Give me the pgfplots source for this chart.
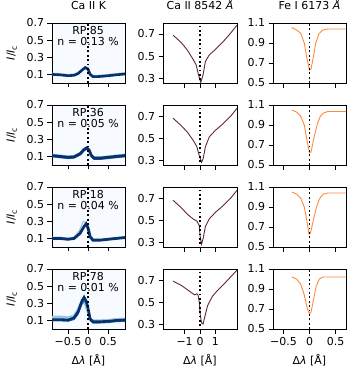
\documentclass[border=0pt]{standalone}
\usepackage{fontspec}
\setmainfont{DejaVu Sans}
\usepackage{pgfplots}
\pgfplotsset{compat=1.18}
\definecolor{kbg}{HTML}{F7FBFF}
\definecolor{kdark}{HTML}{08306B}
\definecolor{kmid}{HTML}{2171B5}
\definecolor{klight}{HTML}{9CC4E4}
\definecolor{caline}{HTML}{5E2838}
\definecolor{feline}{HTML}{FF8A3D}
\newcommand{\fs}{\fontsize{11}{13}\selectfont}
\newcommand{\ylab}{{\itshape I}/{\itshape I}\raisebox{-0.35ex}{\fontsize{7.7}{8}\selectfont c}}
\newcommand{\xlab}{Δ{\itshape λ} [Å]}
\pgfplotsset{
  base/.style={scale only axis, anchor=north west, height=60bp,
    tick pos=left, tick align=outside, major tick length=4.5bp,
    tick style={line width=0.9bp, black},
    axis line style={line width=0.9bp, black},
    ticklabel style={font=\fs},
    label style={font=\fs},
    title style={font=\fs, at={(axis description cs:0.5,1)}, anchor=base, yshift=8bp},
    every axis y label/.style={at={(axis description cs:-0.55,0.5)}, rotate=90, anchor=center, font=\fs},
    every axis x label/.style={at={(axis description cs:0.5,0)}, yshift=-31bp, anchor=center, font=\fs},
    clip=true},
  colK/.style={width=73bp, xmin=-0.9, xmax=0.92, ymin=0, ymax=0.7,
    xtick={-0.5,0,0.5}, ytick={0.1,0.3,0.5,0.7},
    yticklabels={0.1,0.3,0.5,0.7},
    axis background/.style={fill=kbg}},
  colCa/.style={width=74bp, xmin=-2.4, xmax=2.4, ymin=0.255, ymax=0.8,
    xtick={-1,0,1}, ytick={0.3,0.5,0.7}, yticklabels={0.3,0.5,0.7}},
  colFe/.style={width=73bp, xmin=-0.7, xmax=0.7, ymin=0.5, ymax=1.1,
    xtick={-0.5,0,0.5}, ytick={0.5,0.7,0.9,1.1}, yticklabels={0.5,0.7,0.9,1.1}},
  zline/.style={black, line width=1.8bp, dash pattern=on 1.8bp off 2.6bp},
}
\begin{document}
\begin{tikzpicture}
\useasboundingbox (0,0) rectangle (350bp,-370bp);
% ---------------- Row 1 ----------------
\begin{axis}[base, colK, at={(52bp,-23bp)}, xticklabels={}, title={Ca II K}, ylabel={\ylab}]
\addplot[klight, line width=1bp] coordinates {(-0.9,0.115) (-0.7,0.11) (-0.5,0.1) (-0.35,0.105) (-0.25,0.125) (-0.15,0.165) (-0.07,0.195) (0,0.175) (0.05,0.115) (0.12,0.09) (0.25,0.09) (0.4,0.095) (0.6,0.105) (0.8,0.115) (0.92,0.12)};
\addplot[kdark, line width=2.6bp] coordinates {(-0.9,0.10) (-0.7,0.095) (-0.5,0.085) (-0.35,0.09) (-0.25,0.11) (-0.15,0.15) (-0.07,0.18) (0,0.16) (0.05,0.10) (0.12,0.075) (0.25,0.075) (0.4,0.08) (0.6,0.09) (0.8,0.10) (0.92,0.105)};
\addplot[zline] coordinates {(0,0) (0,0.7)};
\node[font=\fs] at (axis cs:0,0.61) {RP 85};
\node[font=\fs] at (axis cs:0,0.48) {n = 0.13 \%};
\end{axis}
\begin{axis}[base, colCa, at={(163bp,-23bp)}, xticklabels={}, title={Ca II 8542 {\itshape Å}}]
\addplot[caline, line width=0.9bp] coordinates {(-1.75,0.69) (-1.2,0.62) (-0.8,0.55) (-0.45,0.47) (-0.25,0.42) (-0.1,0.33) (0.05,0.26) (0.2,0.33) (0.35,0.45) (0.6,0.51) (1.0,0.56) (1.5,0.63) (2.0,0.71) (2.4,0.78)};
\addplot[zline] coordinates {(0,0.2) (0,0.8)};
\end{axis}
\begin{axis}[base, colFe, at={(273bp,-23bp)}, xticklabels={}, title={Fe I 6173 {\itshape Å}}]
\addplot[feline, line width=0.9bp] coordinates {(-0.34,1.055) (-0.25,1.03) (-0.17,1.0) (-0.1,0.9) (-0.05,0.75) (0,0.63) (0.03,0.64) (0.07,0.75) (0.12,0.9) (0.18,0.99) (0.25,1.03) (0.35,1.04) (0.7,1.04)};
\addplot[zline] coordinates {(0,0.5) (0,1.1)};
\end{axis}
% ---------------- Row 2 ----------------
\begin{axis}[base, colK, at={(52bp,-105bp)}, xticklabels={}, ylabel={\ylab}]
\addplot[klight, line width=1.2bp] coordinates {(-0.9,0.125) (-0.7,0.115) (-0.5,0.105) (-0.35,0.11) (-0.2,0.145) (-0.1,0.195) (-0.03,0.215) (0.03,0.185) (0.08,0.125) (0.15,0.095) (0.3,0.095) (0.5,0.105) (0.7,0.115) (0.92,0.125)};
\addplot[kmid, line width=1bp] coordinates {(-0.9,0.095) (-0.7,0.085) (-0.5,0.075) (-0.35,0.08) (-0.2,0.115) (-0.1,0.165) (-0.03,0.185) (0.03,0.155) (0.08,0.095) (0.15,0.065) (0.3,0.065) (0.5,0.075) (0.7,0.085) (0.92,0.095)};
\addplot[kdark, line width=2.8bp] coordinates {(-0.9,0.11) (-0.7,0.10) (-0.5,0.09) (-0.35,0.095) (-0.2,0.13) (-0.1,0.18) (-0.03,0.20) (0.03,0.17) (0.08,0.11) (0.15,0.08) (0.3,0.08) (0.5,0.09) (0.7,0.10) (0.92,0.11)};
\addplot[zline] coordinates {(0,0) (0,0.7)};
\node[font=\fs] at (axis cs:0,0.61) {RP 36};
\node[font=\fs] at (axis cs:0,0.48) {n = 0.05 \%};
\end{axis}
\begin{axis}[base, colCa, at={(163bp,-105bp)}, xticklabels={}]
\addplot[caline, line width=0.9bp] coordinates {(-1.75,0.68) (-1.2,0.61) (-0.8,0.55) (-0.4,0.47) (-0.2,0.42) (-0.05,0.34) (0.1,0.28) (0.2,0.31) (0.35,0.42) (0.6,0.51) (1.0,0.57) (1.5,0.63) (2.0,0.70) (2.4,0.77)};
\addplot[zline] coordinates {(0,0.2) (0,0.8)};
\end{axis}
\begin{axis}[base, colFe, at={(273bp,-105bp)}, xticklabels={}]
\addplot[feline, line width=0.9bp] coordinates {(-0.34,1.05) (-0.25,1.03) (-0.17,0.99) (-0.1,0.9) (-0.05,0.75) (0,0.62) (0.03,0.63) (0.08,0.76) (0.15,0.91) (0.21,0.99) (0.27,1.02) (0.35,1.035) (0.7,1.035)};
\addplot[zline] coordinates {(0,0.5) (0,1.1)};
\end{axis}
% ---------------- Row 3 ----------------
\begin{axis}[base, colK, at={(52bp,-187bp)}, xticklabels={}, ylabel={\ylab}]
\addplot[klight, line width=1bp] coordinates {(-0.9,0.115) (-0.7,0.115) (-0.5,0.105) (-0.35,0.115) (-0.22,0.19) (-0.12,0.30) (-0.05,0.285) (0.02,0.20) (0.08,0.10) (0.15,0.09) (0.3,0.09) (0.5,0.10) (0.7,0.11) (0.92,0.12)};
\addplot[kdark, line width=2.8bp] coordinates {(-0.9,0.10) (-0.7,0.10) (-0.5,0.09) (-0.35,0.10) (-0.2,0.16) (-0.1,0.24) (-0.05,0.27) (0,0.22) (0.05,0.12) (0.12,0.08) (0.3,0.08) (0.5,0.09) (0.7,0.10) (0.92,0.11)};
\addplot[zline] coordinates {(0,0) (0,0.7)};
\node[font=\fs] at (axis cs:0,0.61) {RP 18};
\node[font=\fs] at (axis cs:0,0.48) {n = 0.04 \%};
\end{axis}
\begin{axis}[base, colCa, at={(163bp,-187bp)}, xticklabels={}]
\addplot[caline, line width=0.9bp] coordinates {(-1.75,0.68) (-1.2,0.61) (-0.8,0.55) (-0.45,0.51) (-0.2,0.49) (-0.05,0.45) (0.0,0.36) (0.1,0.28) (0.2,0.33) (0.35,0.44) (0.6,0.51) (1.0,0.57) (1.5,0.63) (2.0,0.70) (2.4,0.77)};
\addplot[zline] coordinates {(0,0.2) (0,0.8)};
\end{axis}
\begin{axis}[base, colFe, at={(273bp,-187bp)}, xticklabels={}]
\addplot[feline, line width=0.9bp] coordinates {(-0.34,1.05) (-0.25,1.03) (-0.17,0.99) (-0.1,0.9) (-0.05,0.76) (-0.01,0.63) (0.02,0.64) (0.07,0.76) (0.14,0.91) (0.2,0.99) (0.27,1.03) (0.35,1.04) (0.7,1.04)};
\addplot[zline] coordinates {(0,0.5) (0,1.1)};
\end{axis}
% ---------------- Row 4 ----------------
\begin{axis}[base, colK, at={(52bp,-269bp)}, xticklabels={−0.5,0,0.5}, ylabel={\ylab}, xlabel={\xlab}]
\addplot[klight, line width=3bp] coordinates {(-0.9,0.135) (-0.7,0.14) (-0.5,0.13) (-0.35,0.15) (-0.25,0.22) (-0.15,0.33) (-0.1,0.32) (-0.05,0.27) (0,0.2) (0.05,0.11) (0.12,0.095) (0.3,0.095) (0.5,0.10) (0.7,0.11) (0.92,0.115)};
\addplot[kmid, line width=1bp] coordinates {(-0.9,0.095) (-0.7,0.095) (-0.5,0.09) (-0.35,0.11) (-0.25,0.17) (-0.15,0.29) (-0.1,0.33) (-0.05,0.30) (0,0.22) (0.05,0.10) (0.12,0.07) (0.3,0.07) (0.5,0.075) (0.7,0.085) (0.92,0.09)};
\addplot[kdark, line width=2.6bp] coordinates {(-0.9,0.11) (-0.7,0.11) (-0.5,0.105) (-0.35,0.13) (-0.25,0.2) (-0.15,0.33) (-0.1,0.37) (-0.05,0.33) (0,0.24) (0.05,0.12) (0.12,0.085) (0.3,0.085) (0.5,0.09) (0.7,0.10) (0.92,0.105)};
\addplot[zline] coordinates {(0,0) (0,0.7)};
\node[font=\fs] at (axis cs:0,0.61) {RP 78};
\node[font=\fs] at (axis cs:0,0.48) {n = 0.01 \%};
\end{axis}
\begin{axis}[base, colCa, at={(163bp,-269bp)}, xticklabels={−1,0,1}, xlabel={\xlab}]
\addplot[caline, line width=0.9bp] coordinates {(-1.75,0.69) (-1.2,0.65) (-0.7,0.60) (-0.35,0.565) (-0.2,0.575) (-0.12,0.56) (-0.05,0.50) (0.02,0.38) (0.1,0.31) (0.2,0.30) (0.3,0.36) (0.5,0.47) (0.8,0.55) (1.1,0.60) (1.6,0.67) (2.0,0.73) (2.4,0.79)};
\addplot[zline] coordinates {(0,0.2) (0,0.8)};
\end{axis}
\begin{axis}[base, colFe, at={(273bp,-269bp)}, xticklabels={−0.5,0,0.5}, xlabel={\xlab}]
\addplot[feline, line width=0.9bp] coordinates {(-0.34,1.02) (-0.25,1.0) (-0.17,0.95) (-0.1,0.84) (-0.04,0.70) (0,0.65) (0.03,0.67) (0.08,0.80) (0.13,0.93) (0.19,1.0) (0.26,1.02) (0.7,1.02)};
\addplot[zline] coordinates {(0,0.5) (0,1.1)};
\end{axis}
\end{tikzpicture}
\end{document}
